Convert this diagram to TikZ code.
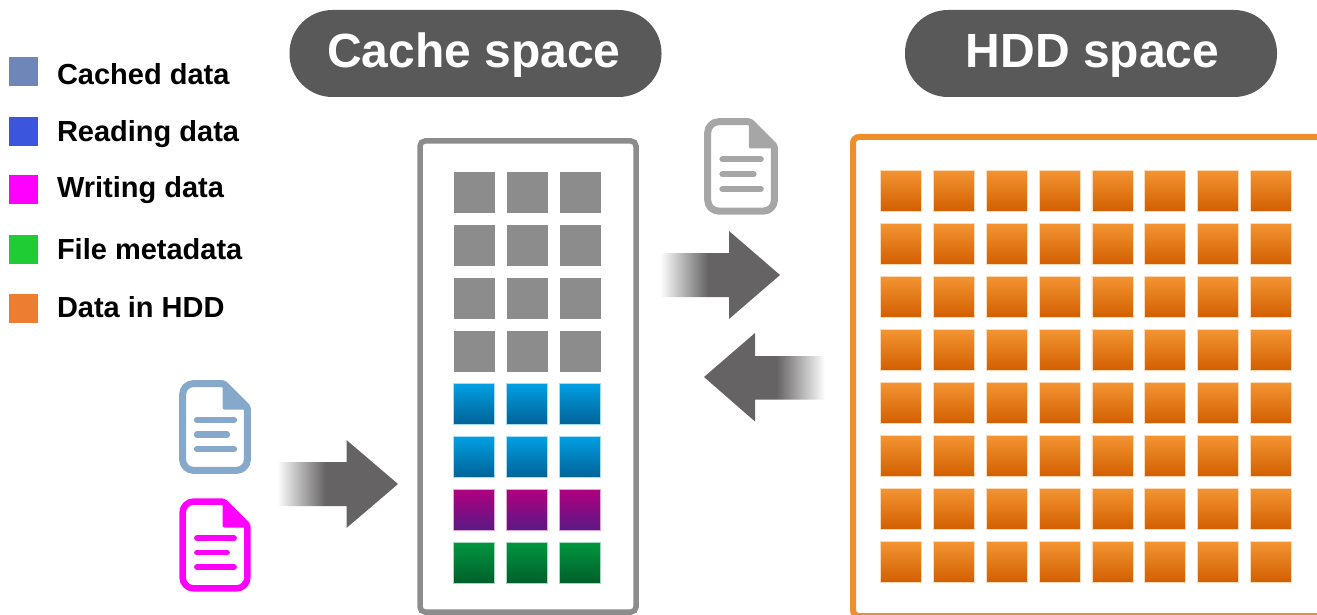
\documentclass[tikz,border=0pt]{standalone}
\usepackage{fontspec}
\setmainfont{Liberation Sans}
\definecolor{pillgray}{HTML}{595959}
\definecolor{arrowgray}{HTML}{656363}
\definecolor{cachegray}{HTML}{8C8C8C}
\definecolor{hddorange}{HTML}{EE8F2A}
\definecolor{docblue}{HTML}{86A9CB}
\definecolor{docgray}{HTML}{A6A6A6}
\definecolor{docpink}{HTML}{FF00FF}
\definecolor{cachedcolor}{HTML}{6F86B8}
\definecolor{readingcolor}{HTML}{3B55DD}
\definecolor{metacolor}{HTML}{1FCC33}
\definecolor{hddcolor}{HTML}{ED7D31}
\definecolor{bluetop}{HTML}{009FE3}
\definecolor{bluebottom}{HTML}{006296}
\definecolor{purpletop}{HTML}{B0007F}
\definecolor{purplebottom}{HTML}{581A85}
\definecolor{greentop}{HTML}{009640}
\definecolor{greenbottom}{HTML}{005E2A}
\definecolor{orangetop}{HTML}{F39432}
\definecolor{orangebottom}{HTML}{D25E00}
\pgfdeclarehorizontalshading{arrowfade}{100bp}{color(0bp)=(white); color(25bp)=(white); color(45bp)=(arrowgray); color(100bp)=(arrowgray)}
\tikzset{
  pill/.style={fill=pillgray,rounded corners=43pt,minimum width=372pt,minimum height=87pt,inner sep=0pt,outer sep=0pt,text height=35pt,text depth=6pt,text=white,font=\fontsize{48}{48}\selectfont\bfseries},
  legendbox/.style={minimum size=29pt,inner sep=0pt,outer sep=0pt,anchor=north west},
  legendtext/.style={anchor=base west,inner sep=0pt,outer sep=0pt,font=\fontsize{29}{29}\selectfont\bfseries},
  block/.style={minimum size=41pt,inner sep=0pt,outer sep=0pt,line width=.7pt},
  grayblock/.style={block,minimum size=41.5pt,fill=cachegray},
  blueblock/.style={block,draw=bluetop!35,top color=bluetop,bottom color=bluebottom},
  purpleblock/.style={block,draw=purpletop!35,top color=purpletop,bottom color=purplebottom},
  greenblock/.style={block,draw=greentop!35,top color=greentop,bottom color=greenbottom},
  orangeblock/.style={block,draw=orangetop!35,top color=orangetop,bottom color=orangebottom},
  docicon/.pic={
    \draw[line join=round] (3.6,40) [rounded corners=11pt] -- (3.6,3.6) -- (30,3.6) [rounded corners=1.5pt] -- (44.6,3.6) -- (68.4,27.4) -- (68.4,50) [rounded corners=11pt] -- (68.4,90.4) -- (3.6,90.4) -- cycle;
    \fill[rounded corners=2pt] (43.5,2) -- (46,2) -- (70,26) -- (70,29.5) -- (43.5,29.5) -- cycle;
    \draw[line width=.95*\pgflinewidth,line cap=round] (18,40) -- (55,40);
    \draw[line width=.95*\pgflinewidth,line cap=round] (18,54.5) -- (48,54.5);
    \draw[line width=.95*\pgflinewidth,line cap=round] (18,69) -- (55,69);
  }
}
\begin{document}
\begin{tikzpicture}[x=1pt,y=-1pt,line width=7pt]
\useasboundingbox (0,0) rectangle (1317,615);
\clip (0,0) rectangle (1317,615);
% titles
\node[pill] (cachetitle) at (475.5,53.5) {\kern-3pt Cache space};
\node[pill] (hddtitle) at (1091,53.5) {HDD space\kern-3pt};
% legend
\node[legendbox,fill=cachedcolor] (cachedbox) at (9,57) {};
\node[legendbox,fill=readingcolor] (readingbox) at (9,117) {};
\node[legendbox,fill=docpink] (writingbox) at (9,175) {};
\node[legendbox,fill=metacolor] (metabox) at (9,235) {};
\node[legendbox,fill=hddcolor] (hddbox) at (9,294) {};
\node[legendtext] (cachedtext) at (57,85) {Cached data};
\node[legendtext] (readingtext) at (57,142) {Reading data};
\node[legendtext] (writingtext) at (57,197) {Writing data};
\node[legendtext] (metatext) at (57,259) {File metadata};
\node[legendtext] (hddtext) at (57,317) {Data in HDD};
% cache space
\draw[cachegray,line width=5.5pt,rounded corners=5pt] (420,141) rectangle (636,612);
\foreach \row in {0,1,2,3}
  \foreach \col in {0,1,2}
    \node[grayblock] (cache\row\col) at (474.5+53*\col,192.5+53*\row) {};
\foreach \row in {4,5}
  \foreach \col in {0,1,2}
    \node[blueblock] (cache\row\col) at (474+53*\col,192.2+53*\row) {};
\foreach \col in {0,1,2}
  \node[purpleblock] (cache6\col) at (474+53*\col,510.2) {};
\foreach \col in {0,1,2}
  \node[greenblock] (cache7\col) at (474+53*\col,563.2) {};
% hdd space
\draw[hddorange,line width=6pt,rounded corners=6pt] (853,137) rectangle (1340,616);
\foreach \row in {0,...,7}
  \foreach \col in {0,...,7}
    \node[orangeblock] (hdd\row\col) at (901+52.85*\col,191.2+53*\row) {};
% arrows
\shade[shading=arrowfade] (277,462) -- (346.5,462) -- (346.5,440) -- (398,484) -- (346.5,528) -- (346.5,506) -- (277,506) -- cycle;
\shade[shading=arrowfade] (660,253) -- (729,253) -- (729,231) -- (780,275) -- (729,319) -- (729,297) -- (660,297) -- cycle;
\shade[shading=arrowfade,shading angle=180] (825,356) -- (755,356) -- (755,333) -- (704,377) -- (755,421.5) -- (755,399.5) -- (825,399.5) -- cycle;
% files
\pic[color=docblue] at (179,380) {docicon};
\pic[color=docpink,line width=6.5pt] at (179,498) {docicon};
\pic[color=docgray,scale=1.03] at (704,118) {docicon};
\end{tikzpicture}
\end{document}
